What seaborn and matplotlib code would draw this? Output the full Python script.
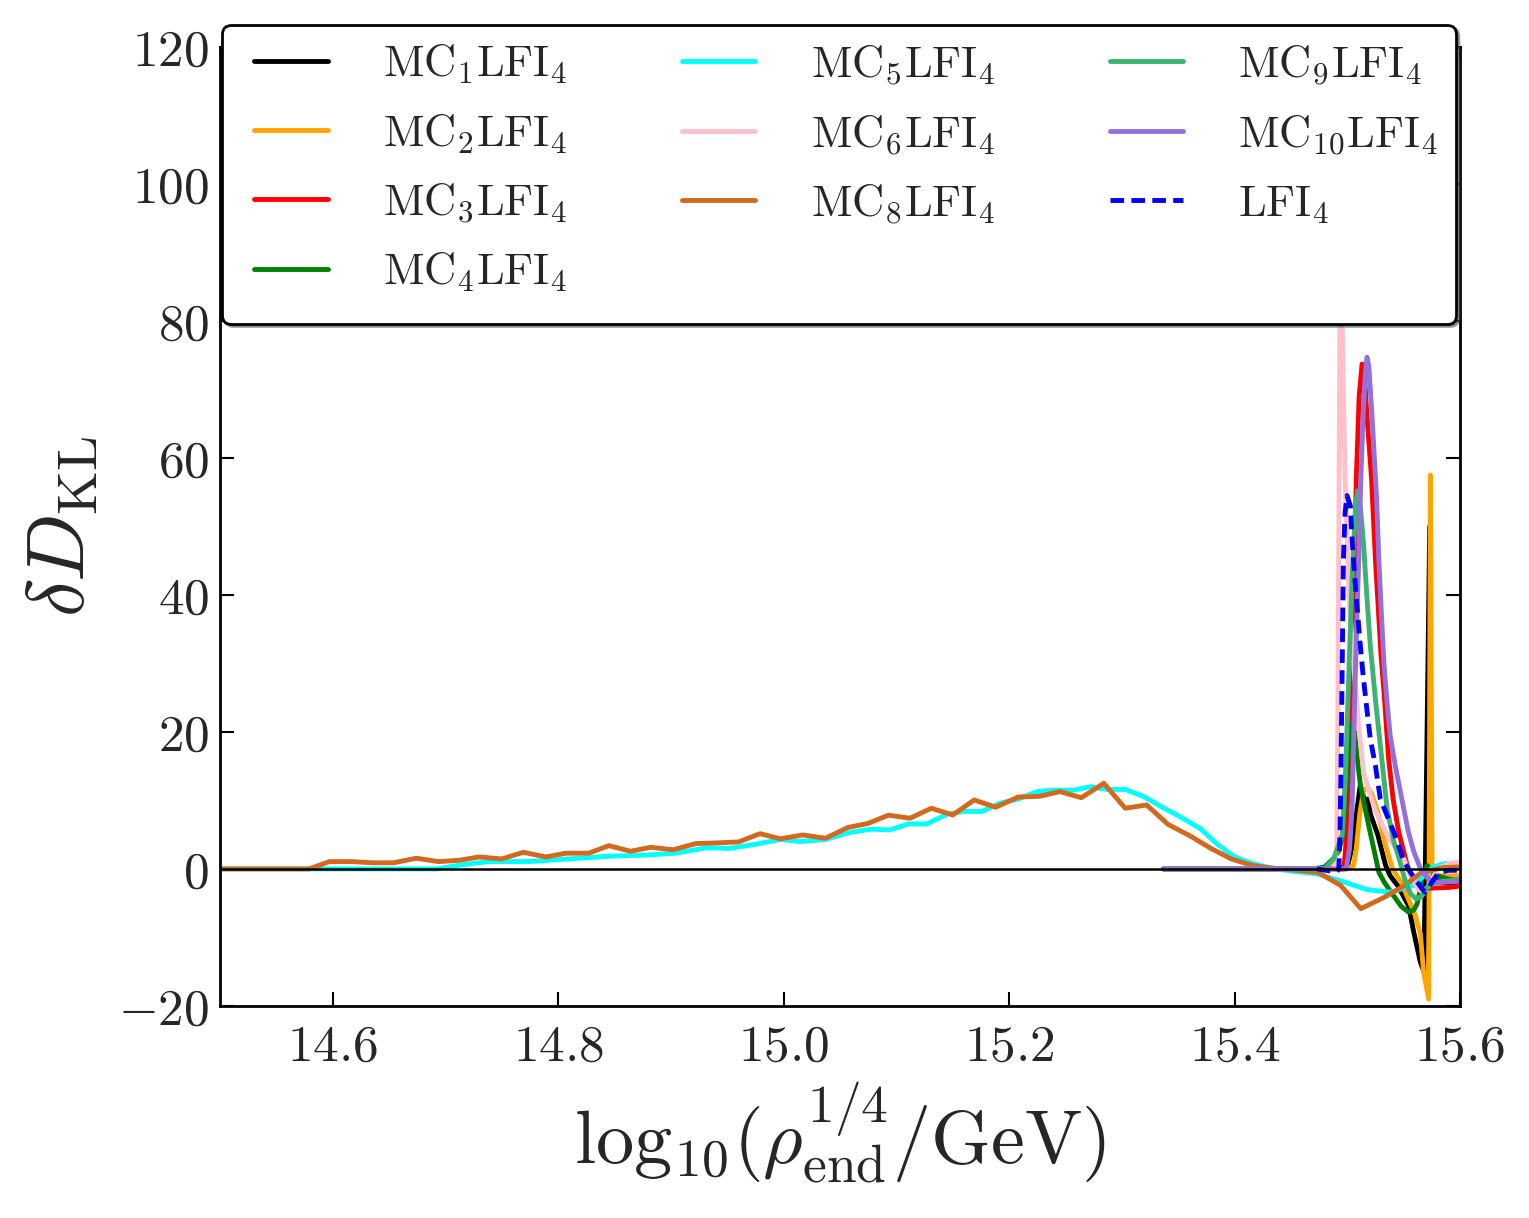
import matplotlib
matplotlib.use("Agg")
import matplotlib.pyplot as plt
from matplotlib.ticker import FuncFormatter
from matplotlib.lines import Line2D
from matplotlib.legend_handler import HandlerLine2D
from matplotlib.offsetbox import DrawingArea
import seaborn as sns

# ---- data ----
# MC8 (chocolate) and MC5 (cyan) cover the whole range
mc8_x = [14.500, 14.520, 14.540, 14.559, 14.579, 14.597, 14.617, 14.635, 14.654, 14.674,
         14.694, 14.712, 14.730, 14.750, 14.769, 14.789, 14.807, 14.827, 14.845, 14.864,
         14.882, 14.902, 14.922, 14.940, 14.960, 14.979, 14.997, 15.017, 15.037, 15.057,
         15.075, 15.093, 15.112, 15.131, 15.150, 15.169, 15.188, 15.208, 15.227, 15.245,
         15.264, 15.284, 15.303, 15.322, 15.341, 15.360, 15.379, 15.397, 15.416, 15.435,
         15.455, 15.474, 15.494, 15.512, 15.532, 15.550, 15.566, 15.585, 15.600]
mc8_y = [0.0, 0.0, 0.0, 0.0, 0.0, 1.07, 1.07, 0.9, 0.9, 1.56,
         1.07, 1.26, 1.75, 1.46, 2.43, 1.75, 2.3, 2.3, 3.4, 2.58,
         3.16, 2.8, 3.7, 3.8, 3.94, 5.15, 4.4, 4.96, 4.48, 6.05,
         6.65, 7.85, 7.4, 8.86, 7.88, 10.07, 9.0, 10.5, 10.6, 11.3,
         10.4, 12.5, 8.86, 9.34, 6.5, 4.87, 3.0, 1.46, 0.5, 0.1,
         -0.2, -0.5, -2.4, -5.8, -4.2, -2.5, -0.5, 0.2, 0.3]

mc5_x = [14.500, 14.692, 14.714, 14.738, 14.757, 14.777, 14.809, 14.844, 14.880, 14.904,
         14.932, 14.952, 14.975, 14.997, 15.015, 15.037, 15.058, 15.077, 15.094, 15.111,
         15.127, 15.145, 15.160, 15.176, 15.192, 15.208, 15.225, 15.241, 15.257, 15.272,
         15.287, 15.303, 15.319, 15.336, 15.353, 15.370, 15.384, 15.399, 15.414, 15.430,
         15.449, 15.473, 15.497, 15.517, 15.538, 15.559, 15.576, 15.587, 15.600]
mc5_y = [0.0, 0.0, 0.6, 1.07, 1.07, 1.1, 1.46, 1.85, 2.04, 2.3,
         3.1, 3.0, 3.6, 4.3, 4.0, 4.3, 5.3, 5.8, 5.7, 6.57,
         6.57, 8.0, 8.4, 8.4, 9.6, 10.2, 11.3, 11.5, 11.5, 12.0,
         11.6, 11.6, 10.6, 9.0, 7.5, 5.84, 3.7, 1.85, 0.88, 0.2,
         -0.3, -0.7, -1.9, -3.0, -3.4, -2.4, 0.3, 0.8, 0.6]

# the other runs only start near 15.34
mc1_x = [15.337, 15.480, 15.500, 15.504, 15.508, 15.5115, 15.5145, 15.516, 15.518, 15.5205,
         15.527, 15.534, 15.538, 15.545, 15.5544, 15.5589, 15.5648, 15.568, 15.5731, 15.5745,
         15.578, 15.585, 15.600]
mc1_y = [0.0, 0.0, 0.3, 3.0, 8.0, 12.2, 10.5, 9.5, 10.2, 8.0,
         5.0, 0.5, -1.0, -2.5, -5.4, -9.2, -13.6, -15.0, 50.0, 0.0,
         -1.5, -2.0, -2.0]

mc2_x = [15.337, 15.500, 15.5056, 15.508, 15.511, 15.5145, 15.518, 15.5215, 15.527, 15.533,
         15.540, 15.548, 15.5544, 15.5604, 15.5648, 15.5677, 15.5722, 15.5737, 15.5752, 15.580,
         15.600]
mc2_y = [0.0, 0.0, 0.5, 3.0, 8.0, 11.5, 11.8, 11.0, 8.3, 4.0,
         0.0, -2.0, -4.5, -6.8, -9.5, -15.1, -19.0, 57.5, 0.0, -1.0,
         -1.0]

mc3_x = [15.337, 15.490, 15.497, 15.4985, 15.5015, 15.5045, 15.508, 15.5105, 15.5131, 15.515,
         15.5175, 15.5215, 15.525, 15.5275, 15.530, 15.5325, 15.5367, 15.5406, 15.5456, 15.553,
         15.5589, 15.5663, 15.575, 15.590, 15.600]
mc3_y = [0.0, 0.0, 0.0, 3.0, 15.0, 32.0, 57.0, 69.0, 73.7, 72.5,
         66.0, 57.0, 45.0, 38.0, 31.0, 26.0, 16.0, 10.2, 5.4, 0.6,
         -2.2, -2.9, -2.8, -2.7, -2.5]

mc4_x = [15.337, 15.470, 15.480, 15.4876, 15.492, 15.4962, 15.4997, 15.503, 15.5065, 15.509,
         15.5116, 15.519, 15.528, 15.533, 15.541, 15.548, 15.5544, 15.559, 15.5619, 15.5648,
         15.5663, 15.5707, 15.580, 15.590, 15.600]
mc4_y = [0.0, 0.0, 0.3, 1.5, 2.5, 5.0, 14.0, 21.0, 20.0, 16.0,
         12.2, 6.3, -0.5, -2.0, -3.9, -5.5, -6.3, -6.0, -5.1, -2.9,
         -1.0, 0.5, -1.0, -1.5, -1.7]

mc6_x = [15.337, 15.488, 15.4905, 15.4915, 15.4925, 15.4935, 15.4945, 15.4955, 15.498, 15.5015,
         15.5055, 15.510, 15.5145, 15.520, 15.5249, 15.5367, 15.550, 15.556, 15.5633, 15.568,
         15.5737, 15.580, 15.590, 15.600]
mc6_y = [0.0, 0.0, 3.0, 20.0, 50.0, 85.0, 105.0, 80.0, 57.0, 40.0,
         30.0, 21.0, 14.0, 11.0, 8.5, 4.5, 1.5, -1.0, -3.0, -3.5,
         -2.0, 0.0, 0.8, 1.0]

mc9_x = [15.337, 15.480, 15.488, 15.4955, 15.4982, 15.5012, 15.5042, 15.507, 15.509, 15.5115,
         15.5145, 15.5175, 15.5204, 15.5249, 15.5293, 15.5353, 15.5412, 15.546, 15.551, 15.556,
         15.561, 15.566, 15.572, 15.580, 15.600]
mc9_y = [0.0, 0.0, 1.5, 5.0, 13.1, 27.7, 42.3, 52.0, 55.2, 53.0,
         47.2, 39.4, 32.6, 24.8, 18.0, 8.8, 4.0, 1.5, -1.5, -3.6,
         -4.4, -4.0, -2.5, -1.9, -1.5]

mc10_x = [15.337, 15.499, 15.502, 15.5042, 15.5062, 15.5086, 15.5101, 15.512, 15.514, 15.516,
          15.5175, 15.519, 15.522, 15.524, 15.526, 15.528, 15.530, 15.5325, 15.535, 15.538,
          15.5426, 15.5486, 15.554, 15.559, 15.565, 15.572, 15.580, 15.600]
mc10_y = [0.0, 0.0, 3.0, 8.8, 22.8, 37.4, 45.0, 57.0, 66.0, 72.5,
          74.7, 73.5, 66.0, 60.0, 54.0, 45.0, 38.0, 30.0, 24.8, 19.5,
          15.0, 10.0, 5.5, 2.5, 0.0, -1.5, -2.0, -1.8]

lfi4_x = [15.473, 15.485, 15.490, 15.4925, 15.4935, 15.4944, 15.4955, 15.4965, 15.498, 15.4997,
          15.5027, 15.5042, 15.5062, 15.5086, 15.511, 15.5137, 15.517, 15.5204, 15.5249, 15.5293,
          15.5412, 15.550, 15.556, 15.5663, 15.5692, 15.5752, 15.5811, 15.590, 15.600]
lfi4_y = [0.0, -0.3, -0.5, 0.0, 5.0, 15.0, 30.0, 45.0, 52.0, 54.5,
          53.0, 48.2, 43.4, 38.4, 33.6, 28.8, 23.8, 19.0, 15.1, 10.2,
          5.4, 1.2, -0.5, -2.9, -3.4, -1.9, -0.5, -0.2, -0.2]

series = [
    (mc1_x, mc1_y, "black", r"$\mathrm{MC}_{1}\mathrm{LFI}_{4}$", "-"),
    (mc2_x, mc2_y, "orange", r"$\mathrm{MC}_{2}\mathrm{LFI}_{4}$", "-"),
    (mc3_x, mc3_y, "red", r"$\mathrm{MC}_{3}\mathrm{LFI}_{4}$", "-"),
    (mc4_x, mc4_y, "green", r"$\mathrm{MC}_{4}\mathrm{LFI}_{4}$", "-"),
    (mc5_x, mc5_y, "cyan", r"$\mathrm{MC}_{5}\mathrm{LFI}_{4}$", "-"),
    (mc6_x, mc6_y, "pink", r"$\mathrm{MC}_{6}\mathrm{LFI}_{4}$", "-"),
    (mc8_x, mc8_y, "chocolate", r"$\mathrm{MC}_{8}\mathrm{LFI}_{4}$", "-"),
    (mc9_x, mc9_y, "mediumseagreen", r"$\mathrm{MC}_{9}\mathrm{LFI}_{4}$", "-"),
    (mc10_x, mc10_y, "mediumpurple", r"$\mathrm{MC}_{10}\mathrm{LFI}_{4}$", "-"),
    (lfi4_x, lfi4_y, "blue", r"$\mathrm{LFI}_{4}$", "--"),
]

sns.set_style("ticks")
plt.rcParams["mathtext.fontset"] = "cm"
plt.rcParams["font.family"] = ["DejaVu Serif"]

fig = plt.figure(figsize=(15.29, 12.18), dpi=100)
ax = fig.add_axes([0.1439, 0.1741, 0.8110, 0.7874])

for xs, ys, col, lab, ls in series:
    sns.lineplot(x=xs, y=ys, ax=ax, color=col, lw=3.5, label=lab,
                 sort=False, estimator=None)
    if ls == "--":
        ax.lines[-1].set_dashes((2.8, 1.5))

ax.axhline(0, color="black", lw=1.8, zorder=3)

ax.set_xlim(14.5, 15.6)
ax.set_ylim(-20, 120)
ax.set_xticks([14.6, 14.8, 15.0, 15.2, 15.4, 15.6])
ax.set_yticks([-20, 0, 20, 40, 60, 80, 100, 120])
ax.xaxis.set_major_formatter(FuncFormatter(lambda v, p: r"$%.1f$" % v))
ax.yaxis.set_major_formatter(FuncFormatter(lambda v, p: r"$%d$" % round(v)))
ax.tick_params(direction="in", length=10, width=1.5, top=True, right=True,
               labelsize=37, color="black")
ax.tick_params(axis="x", pad=12)
ax.tick_params(axis="y", pad=8)
for sp in ax.spines.values():
    sp.set_linewidth(2)
    sp.set_color("black")

ax.set_xlabel(r"$\mathrm{log}_{10}(\rho_{\mathrm{end}}^{1/4}/\mathrm{GeV})$", fontsize=55, labelpad=6)
ax.set_ylabel(r"$\delta D_{\mathrm{KL}}$", fontsize=58, labelpad=12)

# legend over the top part of the axes, with a shadow
handles, labels = ax.get_legend_handles_labels()
ax.get_legend().remove()
leg = ax.legend(handles, labels, ncol=3, loc="upper left",
                bbox_to_anchor=(0.1452, 0.9795), bbox_transform=fig.transFigure,
                borderaxespad=0, fancybox=True, shadow=True, framealpha=1,
                edgecolor="black", fontsize=32, handlelength=1.98,
                handletextpad=1.24, columnspacing=2.25, labelspacing=0.57,
                borderpad=0.4, handler_map={Line2D: HandlerLine2D(xpad=0.33)})
leg.get_frame().set_linewidth(2)
leg.set_zorder(10)
# a bit of empty room under the last row, like the original box
try:
    leg._legend_box.sep = 0
    leg._legend_box.get_children().append(DrawingArea(1, 8.5))
except Exception:
    pass

fig.savefig("out.png", dpi=100)
